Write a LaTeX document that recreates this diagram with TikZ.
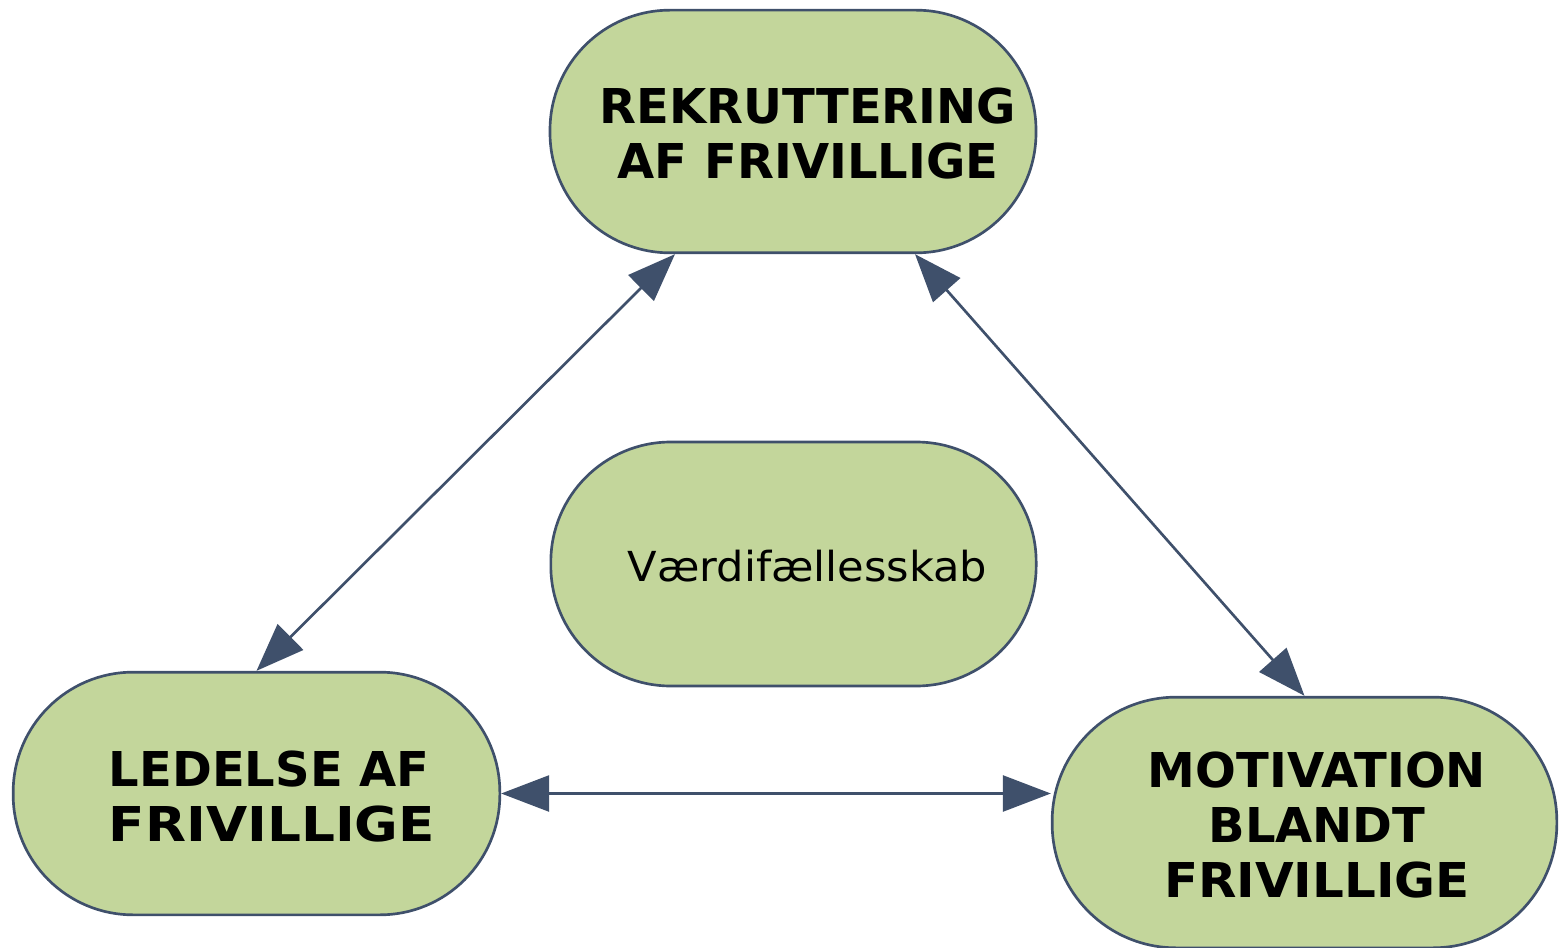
\documentclass[tikz,border=0pt]{standalone}
\usepackage{graphicx}
\usepackage{fontspec}
\setmainfont{DejaVu Sans}
\usetikzlibrary{arrows.meta,calc}

\definecolor{pillfill}{RGB}{195,214,155}
\definecolor{pillline}{RGB}{63,80,107}

\tikzset{every picture/.style={line width=0.75pt}}
\tikzset{
  pill/.style={draw=pillline, fill=pillfill, line width=2pt, rectangle, rounded corners=90pt, inner sep=0pt},
  headtxt/.style={inner sep=0pt, font=\bfseries\fontsize{36}{41.25}\selectfont},
  plaintxt/.style={inner sep=0pt, font=\fontsize{31}{36}\selectfont},
  link/.style={draw=pillline, line width=2pt, {Triangle[length=36pt,width=27pt]}-{Triangle[length=36pt,width=27pt]}}
}

\begin{document}
\begin{tikzpicture}[x=0.75pt,y=0.75pt,yscale=-1,xscale=1]
\useasboundingbox (0,0) rectangle (1560,948);

%Shape: Rounded Rect
\node [pill, minimum width=364.5pt, minimum height=182pt] (rek) at (793,131.5) {};
%Shape: Rounded Rect
\node [pill, minimum width=364pt, minimum height=183pt] (vaerdi) at (793.5,564) {};
%Shape: Rounded Rect
\node [pill, minimum width=365pt, minimum height=182pt] (led) at (256.5,793.5) {};
%Shape: Rounded Rect
\node [pill, minimum width=378.5pt, minimum height=188pt, rounded corners=93pt] (mot) at (1304.5,822.5) {};

% Text Node
\node [headtxt, align=center] (rektxt) at (808,134) {REKRUTTERING\\AF FRIVILLIGE};
% Text Node
\node [plaintxt] (vaerditxt) at (807.5,566) {\scalebox{1.045}[1]{Værdifællesskab}};
% Text Node
\node [headtxt, align=left] (ledtxt) at (272,797) {LEDELSE AF\\\scalebox{1.11}[1]{FRIVILLIGE}};
% Text Node
\node [headtxt, align=center] (mottxt) at (1317,825.5) {MOTIVATION\\BLANDT\\\scalebox{1.04}[1]{FRIVILLIGE}};

%Straight Lines
\draw [link] ($(rek.south)+(-118,0)$) -- (led.north);
%Straight Lines
\draw [link] ($(rek.south)+(122,0)$) -- (mot.north);
%Straight Lines
\draw [link] (led.east) -- (led.east -| mot.west);

\end{tikzpicture}
\end{document}
